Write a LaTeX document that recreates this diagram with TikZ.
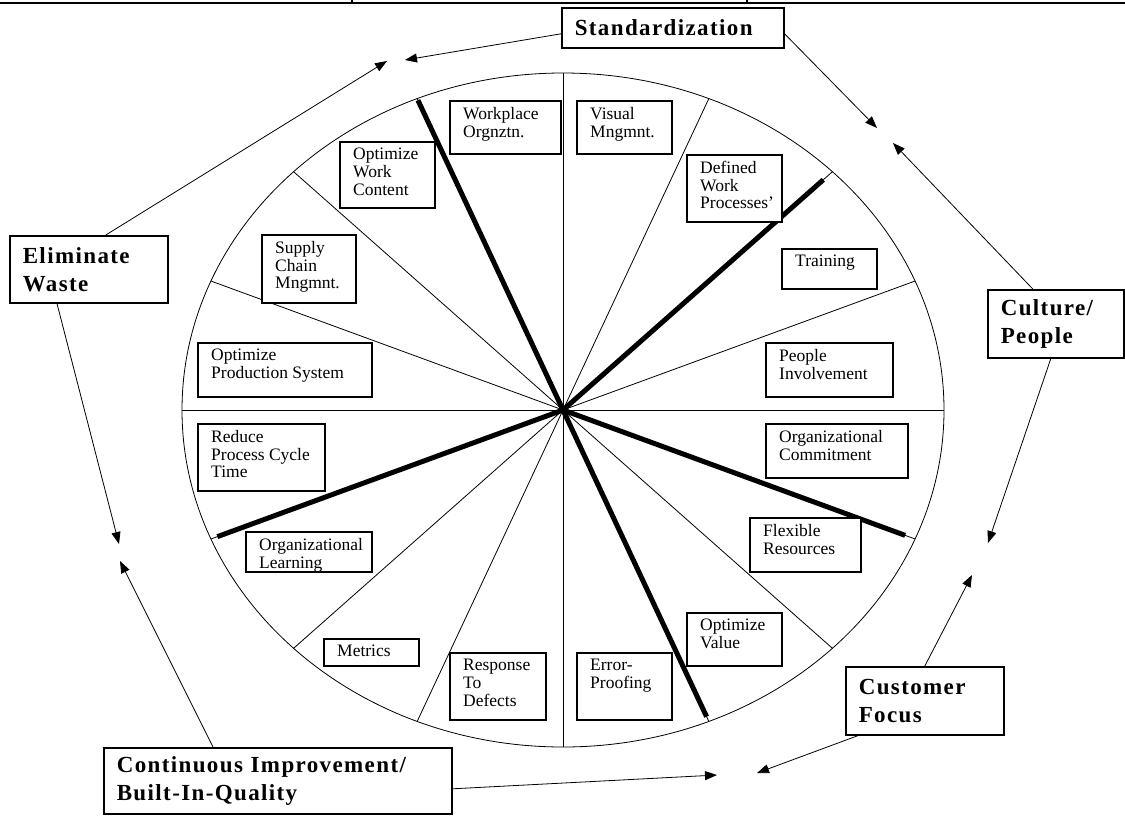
\documentclass[tikz,border=0pt]{standalone}
\usepackage{fontspec}
\setmainfont{Liberation Serif}
\newfontfamily\capfont[LetterSpace=6]{Liberation Serif}
\usetikzlibrary{arrows.meta,calc}

\tikzset{
  spoke/.style={line width=0.8pt},
  thickspoke/.style={line width=5pt},
  cellframe/.style={draw,fill=white,line width=1.1pt},
  celltext/.style={anchor=north west,align=left,inner sep=0pt,xshift=13pt,yshift=-6pt,font=\fontsize{17.5}{17.7}\selectfont},
  keybox/.style={draw,fill=white,line width=1.6pt,anchor=north west,align=left,inner xsep=13pt,inner ysep=0pt,font=\capfont\bfseries\fontsize{23}{28}\selectfont},
  feedback/.style={line width=0.8pt,-{Triangle[length=12pt,width=9pt]}}
}

\begin{document}
\begin{tikzpicture}[x=1pt,y=-1pt]
\useasboundingbox (0,0) rectangle (1125,815);

\draw[line width=1.5pt] (0,3) -- (1125,3) (352,0) -- (352,3) (747,0) -- (747,3);

\coordinate (ctr) at (563,410);
\draw[spoke] (ctr) ellipse [x radius=381pt, y radius=337pt];

\foreach \t in {0,22.5,...,337.5}
  \draw[spoke] (ctr) -- ++({381*cos(\t)},{-337*sin(\t)});

\foreach \t/\f in {45/0.966,112.5/0.995,202.5/0.982,292.5/0.985,337.5/0.972}
  \draw[thickspoke] (ctr) -- ++({\f*381*cos(\t)},{-\f*337*sin(\t)});

\foreach \n/\xa/\ya/\xb/\yb/\txt in {
  wpo/450/101/561/154/{Workplace\\Orgnztn.},
  vis/577/101/672/154/{Visual\\Mngmnt.},
  dwp/687/155/782/222/{Defined\\Work\\Processes'},
  trn/782/249/877/289/{Training},
  ppl/766/343/893/397/{People\\Involvement},
  orc/766/424/908/478/{Organizational\\Commitment},
  flx/750/518/861/572/{Flexible\\Resources},
  opv/687/613/782/666/{Optimize\\Value},
  err/577/653/672/720/{Error-\\Proofing},
  rtd/450/653/546/720/{Response\\To\\Defects},
  met/324/639/419/666/{Metrics},
  orl/246/532/372/572/{Organizational\\Learning},
  rpc/198/424/325/491/{Reduce\\Process Cycle\\Time},
  ops/198/343/372/397/{Optimize\\Production System},
  scm/262/235/356/303/{Supply\\Chain\\Mngmnt.},
  owc/340/142/435/208/{Optimize\\Work\\Content}}
{
  \draw[cellframe] (\xa,\ya) rectangle (\xb,\yb);
  \node[celltext] (\n) at (\xa,\ya) {\txt};
}

\node[keybox,text width=196pt,minimum height=40pt] (std) at (561,7) {Standardization};
\node[keybox,text width=132pt,minimum height=67pt] (elim) at (9,235) {Eliminate\\Waste};
\node[keybox,text width=110pt,minimum height=68pt] (cult) at (987,289) {Culture/\\People};
\node[keybox,text width=132pt,minimum height=68pt] (cust) at (845,666) {Customer\\Focus};
\node[keybox,text width=322pt,minimum height=66pt] (ci) at (103,747) {Continuous Improvement/\\Built-In-Quality};

\coordinate (stdL) at (405,60);
\coordinate (elimU) at (387,61);
\coordinate (stdR) at (877,128);
\coordinate (cultU) at (893,143);
\coordinate (cultD) at (988,543);
\coordinate (custU) at (972,575);
\coordinate (custL) at (757,773);
\coordinate (ciR) at (717,775);
\coordinate (ciU) at (120,561);
\coordinate (elimD) at (119,544);

\draw[feedback] ([yshift=-6pt]std.west) -- (stdL);
\draw[feedback] ([xshift=17pt]elim.north) -- (elimU);
\draw[feedback] ([yshift=-6pt]std.east) -- (stdR);
\draw[feedback] ([xshift=-23pt]cult.north) -- (cultU);
\draw[feedback] ([xshift=-5pt]cult.south) -- (cultD);
\draw[feedback] (cust.north) -- (custU);
\draw[feedback] ([xshift=13pt]cust.south west) -- (custL);
\draw[feedback] ([yshift=-8pt]ci.east) -- (ciR);
\draw[feedback] ([xshift=110pt]ci.north west) -- (ciU);
\draw[feedback] ([xshift=48pt]elim.south west) -- (elimD);

\end{tikzpicture}
\end{document}
